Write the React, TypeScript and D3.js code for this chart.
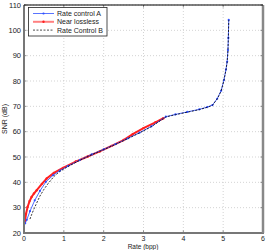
import React from "react";
import * as d3 from "d3";

const xTicks = [0, 1, 2, 3, 4, 5, 6];
const yTicks = [20, 30, 40, 50, 60, 70, 80, 90, 100, 110];

const rateA = [0.03, 0.07, 0.15, 0.27, 0.4, 0.55, 0.73, 0.9, 1.1, 1.4, 1.7, 2.0, 2.3, 2.6, 2.9, 3.2, 3.56, 3.8, 4.1, 4.4, 4.6, 4.73, 4.85, 4.95, 5.02, 5.07, 5.1, 5.12, 5.13, 5.14];
const snrA = [23.8, 25.2, 28.6, 32.9, 36.6, 40.2, 42.8, 44.6, 46.4, 48.8, 51.0, 53.0, 55.1, 57.3, 59.6, 62.1, 65.9, 66.8, 67.8, 68.8, 69.7, 70.5, 73.0, 76.2, 80.4, 84.5, 87.6, 92.2, 97.0, 104.1];

const rateN = [0.02, 0.05, 0.09, 0.14, 0.19, 0.25, 0.32, 0.45, 0.57, 0.75, 0.98, 1.3, 1.6, 1.9, 2.2, 2.5, 2.73, 3.0, 3.3, 3.5];
const snrN = [24.0, 27.5, 30.3, 32.6, 34.2, 35.6, 36.9, 39.4, 41.5, 43.7, 45.7, 48.2, 50.2, 52.2, 54.4, 56.7, 59.0, 61.4, 63.7, 65.3];

const rateB = [0.15, 0.19, 0.25, 0.3, 0.4, 0.5, 0.6, 0.75, 0.9, 1.1, 1.4, 1.7, 2.0, 2.3, 2.6, 2.9, 3.2, 3.56, 3.8, 4.1, 4.4, 4.6, 4.73, 4.85, 4.95, 5.02, 5.07, 5.1, 5.12, 5.13, 5.14];
const snrB = [25.5, 27.2, 29.5, 31.2, 34.6, 37.2, 39.4, 42.3, 44.3, 46.2, 48.7, 50.9, 52.9, 55.0, 57.2, 59.5, 62.0, 65.8, 66.7, 67.7, 68.7, 69.6, 70.4, 72.9, 76.1, 80.3, 84.4, 87.5, 92.0, 96.8, 104.0];

const legendLabels = ["Rate control A", "Near lossless", "Rate Control B"];

export default function App() {
  const W = 266, H = 250;
  const L = 24, R = 263, T = 5, B = 233;
  const x = d3.scaleLinear().domain([0, 6]).range([L, R]);
  const y = d3.scaleLinear().domain([20, 110]).range([B, T]);
  const line = d3.line<[number, number]>().x(d => x(d[0])).y(d => y(d[1]));
  const ptsA: [number, number][] = rateA.map((r, i) => [r, snrA[i]]);
  const ptsN: [number, number][] = rateN.map((r, i) => [r, snrN[i]]);
  const ptsB: [number, number][] = rateB.map((r, i) => [r, snrB[i]]);
  const font = "Liberation Sans, Arial, sans-serif";
  return (
    <svg width={W} height={H} style={{ position: "absolute", left: 0, top: 0 }} fontFamily={font}>
      <rect x={0} y={0} width={W} height={H} fill="#fff" />
      {xTicks.map(t => (
        <line key={"gx" + t} x1={x(t)} x2={x(t)} y1={T} y2={B} stroke="#c8c8c8" strokeWidth={0.8} strokeDasharray="1,2" />
      ))}
      {yTicks.map(t => (
        <line key={"gy" + t} x1={L} x2={R} y1={y(t)} y2={y(t)} stroke="#c8c8c8" strokeWidth={0.8} strokeDasharray="1,2" />
      ))}
      {xTicks.map(t => (
        <g key={"tx" + t}>
          <line x1={x(t)} x2={x(t)} y1={B} y2={B - 2.5} stroke="#444" strokeWidth={0.6} />
          <line x1={x(t)} x2={x(t)} y1={T} y2={T + 2.5} stroke="#444" strokeWidth={0.6} />
          <text x={x(t)} y={B + 7.5} fontSize={7} textAnchor="middle" fill="#222">{t}</text>
        </g>
      ))}
      {yTicks.map(t => (
        <g key={"ty" + t}>
          <line x1={L} x2={L + 2.5} y1={y(t)} y2={y(t)} stroke="#444" strokeWidth={0.6} />
          <line x1={R} x2={R - 2.5} y1={y(t)} y2={y(t)} stroke="#444" strokeWidth={0.6} />
          <text x={L - 3} y={y(t) + 2.6} fontSize={7.5} textAnchor="end" fill="#222">{t}</text>
        </g>
      ))}
      <path d={line(ptsN) || ""} fill="none" stroke="#ff2020" strokeWidth={2} />
      {ptsN.map((p, i) => (
        <circle key={"n" + i} cx={x(p[0])} cy={y(p[1])} r={1.2} fill="#ff2020" />
      ))}
      <path d={line(ptsA) || ""} fill="none" stroke="#3050ff" strokeWidth={1} opacity={0.85} />
      {ptsA.map((p, i) => (
        <circle key={"a" + i} cx={x(p[0])} cy={y(p[1])} r={1.1} fill="#3050ff" />
      ))}
      <path d={line(ptsB) || ""} fill="none" stroke="#000" strokeWidth={0.8} strokeDasharray="2,1.5" />
      <line x1={L} x2={L} y1={T} y2={B + 1} stroke="#777" strokeWidth={2} />
      <line x1={L - 1} x2={R + 1} y1={B} y2={B} stroke="#777" strokeWidth={2} />
      <line x1={R} x2={R} y1={T} y2={B} stroke="#888" strokeWidth={2.5} />
      <line x1={L} x2={R} y1={T} y2={T} stroke="#000" strokeWidth={1} />
      <rect x={28.5} y={7.5} width={78.5} height={28.5} fill="#fff" stroke="#222" strokeWidth={0.8} />
      {legendLabels.map((lab, i) => {
        const ly = 13.5 + i * 8.3;
        return (
          <g key={lab}>
            {i === 0 && <line x1={33} x2={54} y1={ly} y2={ly} stroke="#3050ff" strokeWidth={0.8} />}
            {i === 0 && <circle cx={43.5} cy={ly} r={1.1} fill="#3050ff" />}
            {i === 1 && <line x1={33} x2={54} y1={ly} y2={ly} stroke="#ff8080" strokeWidth={2} />}
            {i === 1 && <circle cx={43.5} cy={ly} r={1.2} fill="#ff2020" />}
            {i === 2 && <line x1={33} x2={54} y1={ly} y2={ly} stroke="#000" strokeWidth={0.7} strokeDasharray="2,1.5" />}
            <text x={57} y={ly + 2.5} fontSize={7} fill="#222">{lab}</text>
          </g>
        );
      })}
      <text x={143} y={248.5} fontSize={6.5} textAnchor="middle" fill="#222">Rate (bpp)</text>
      <text transform={`translate(7,${(T + B) / 2}) rotate(-90)`} fontSize={7} textAnchor="middle" fill="#222">SNR (dB)</text>
    </svg>
  );
}
